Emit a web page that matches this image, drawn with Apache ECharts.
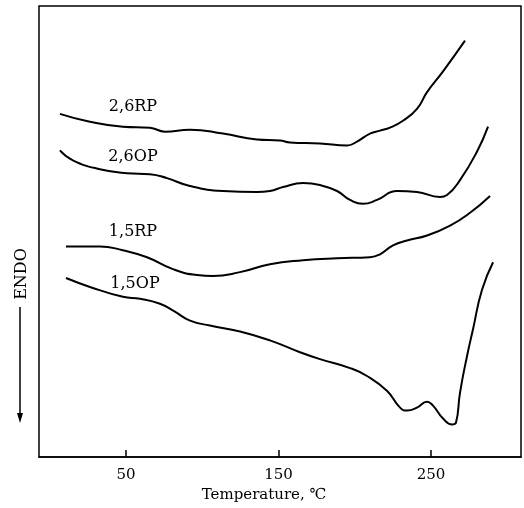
<!DOCTYPE html>
<html>
<head>
<meta charset="utf-8">
<script src="https://cdn.jsdelivr.net/npm/echarts@6/dist/echarts.min.js"></script>
<style>html,body{margin:0;padding:0;background:#fff;}#c{width:524px;height:508px;}</style>
</head>
<body>
<div id="c"></div>
<script>
// Temperature (°C) and relative heat flow (arbitrary units, up = exo)
const t26RP = [6.7, 26.4, 48.0, 65.7, 75.6, 92.0, 113.6, 135.9, 151.0, 157.5, 177.2, 194.9, 201.5, 210.0, 216.6, 223.1, 231.6, 240.8, 247.4, 257.9, 272.3];
const y26RP = [347, 339, 334, 333, 329, 331, 327, 321, 320, 318, 317, 315, 319, 327, 330, 333, 340, 352, 369, 390, 421];

const t26OP = [6.7, 15.2, 32.9, 50.7, 65.7, 76.9, 92.0, 113.6, 135.9, 144.4, 153.0, 166.1, 177.2, 188.4, 196.9, 205.4, 214.6, 227.7, 240.8, 255.9, 260.5, 269.0, 280.2, 287.4];
const y26OP = [310, 300, 291, 287, 286, 282, 274, 269, 268, 269, 273, 277, 275, 269, 260, 256, 260, 269, 268, 263, 265, 280, 309, 334];

const t15RP = [10.7, 32.9, 48.0, 63.8, 80.8, 96.6, 107.0, 124.8, 144.4, 166.1, 188.4, 210.0, 216.6, 225.1, 234.3, 247.4, 262.5, 275.6, 288.7];
const y15RP = [213, 213, 209, 202, 190, 184, 183, 187, 195, 199, 201, 202, 205, 214, 219, 224, 234, 247, 264];

const t15OP = [10.7, 26.4, 48.0, 59.2, 72.3, 82.1, 92.0, 105.1, 124.8, 144.4, 164.1, 177.2, 196.9, 208.0, 221.1, 229.7, 234.3, 240.8, 247.4, 251.3, 257.9, 263.8, 266.4, 269.0, 273.6, 277.5, 283.4, 290.7];
const y15OP = [181, 172, 162, 160, 155, 147, 138, 133, 127, 118, 106, 99, 90, 82, 67, 50, 47, 50, 56, 52, 39, 33, 35, 65, 102, 129, 169, 197];

const xTicks = [50, 150, 250];
const seriesNames = ['2,6RP', '2,6OP', '1,5RP', '1,5OP'];

const FONT = 'DejaVu Serif';
const zip = (a, b) => a.map((v, i) => [v, b[i]]);
const allData = [zip(t26RP, y26RP), zip(t26OP, y26OP), zip(t15RP, y15RP), zip(t15OP, y15OP)];

const labelPos = [[133, 107], [133, 157], [133, 232], [135, 284]];

const chart = echarts.init(document.getElementById('c'), null, {renderer: 'canvas'});
chart.setOption({
  animation: false,
  backgroundColor: '#fff',
  grid: {left: 39, right: 3, top: 6, bottom: 46, show: true, borderColor: '#000', borderWidth: 1.5},
  xAxis: {
    type: 'value', min: -7, max: 309,
    name: 'Temperature, ℃', nameLocation: 'middle', nameGap: 28,
    nameTextStyle: {fontFamily: FONT, fontSize: 15, color: '#000', padding: [0, 32, 0, 0]},
    axisLine: {show: true, onZero: false, lineStyle: {color: '#000', width: 1.5}},
    axisTick: {show: true, inside: true, length: 7, customValues: xTicks, lineStyle: {color: '#000', width: 1.5}},
    axisLabel: {customValues: xTicks, fontFamily: FONT, fontSize: 15, color: '#000', margin: 11},
    splitLine: {show: false}
  },
  yAxis: {
    type: 'value', min: 0, max: 456,
    axisLine: {show: false},
    axisTick: {show: false}, axisLabel: {show: false}, splitLine: {show: false}
  },
  series: allData.map((d, i) => ({
    name: seriesNames[i], type: 'line', data: d, smooth: 0.5, showSymbol: false,
    lineStyle: {color: '#000', width: 2}
  })),
  graphic: [
    ...seriesNames.map((n, i) => ({
      type: 'text', x: labelPos[i][0], y: labelPos[i][1],
      style: {text: n, fontFamily: FONT, fontSize: 16, fill: '#000', align: 'center', verticalAlign: 'middle'}
    })),
    {type: 'text', x: 22, y: 274, rotation: Math.PI / 2,
     style: {text: 'ENDO', fontFamily: FONT, fontSize: 16, fill: '#000', align: 'center', verticalAlign: 'middle'}},
    {type: 'line', shape: {x1: 20, y1: 307, x2: 20, y2: 416}, style: {stroke: '#000', lineWidth: 1.5}},
    {type: 'polygon', shape: {points: [[17, 413], [23, 413], [20, 423]]}, style: {fill: '#000'}}
  ]
});
</script>
</body>
</html>
